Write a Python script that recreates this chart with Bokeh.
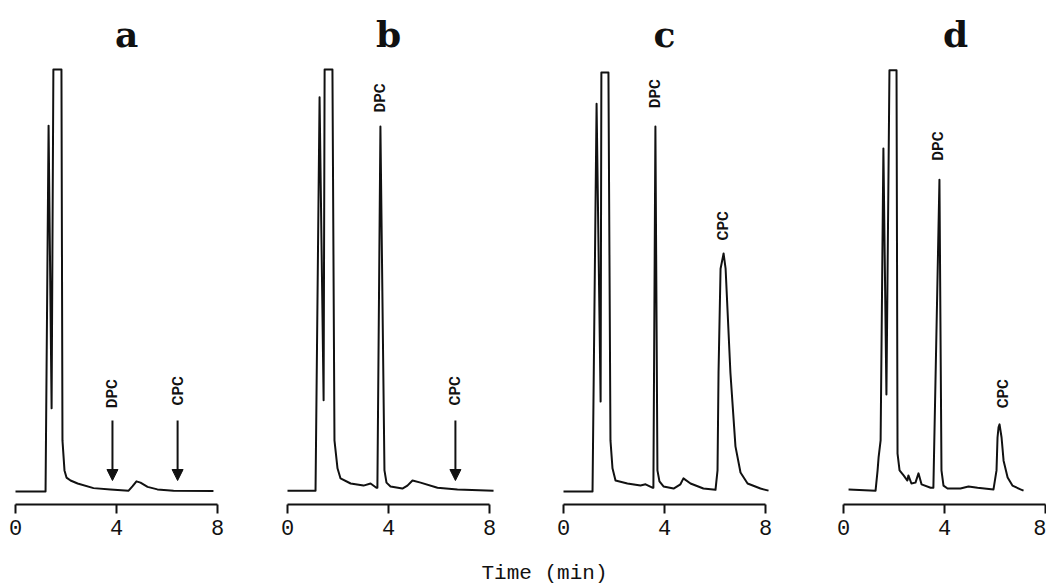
from bokeh.plotting import figure
from bokeh.layouts import row, column
from bokeh.models import Range1d, FixedTicker, Arrow, NormalHead, ColumnDataSource
from bokeh.core.properties import value
from bokeh.embed import file_html
from bokeh.resources import INLINE

# ---------------- data ----------------
panel_names = ["a", "b", "c", "d"]
tick_values = [0, 4, 8]

# time (min) / detector signal (relative units, 100 = off-scale top)
time_a = [0.00, 1.19, 1.31, 1.43, 1.50, 1.82, 1.86, 1.94, 2.02, 2.18, 2.46, 3.09, 3.76,
          4.48, 4.63, 4.79, 4.95, 5.23, 5.62, 6.26, 7.84]
signal_a = [0.0, 0.0, 86.7, 19.7, 100.0, 100.0, 12.1, 5.0, 3.3, 2.6, 1.9, 0.8, 0.5,
            0.2, 1.2, 2.4, 2.1, 1.1, 0.5, 0.2, 0.1]

time_b = [0.00, 1.11, 1.27, 1.43, 1.47, 1.78, 1.86, 1.98, 2.10, 2.50, 3.01, 3.29, 3.52,
          3.56, 3.68, 3.84, 3.92, 4.08, 4.55, 4.75, 4.95, 5.27, 5.94, 6.73, 8.16]
signal_b = [0.2, 0.2, 93.4, 21.6, 100.0, 100.0, 12.1, 5.5, 3.1, 1.9, 1.4, 1.9, 0.9,
            0.9, 86.5, 5.0, 2.1, 1.2, 0.7, 1.4, 2.6, 2.1, 0.9, 0.5, 0.2]

time_c = [0.00, 1.15, 1.31, 1.47, 1.50, 1.78, 1.86, 1.94, 2.06, 2.53, 3.05, 3.25, 3.52,
          3.56, 3.64, 3.72, 3.80, 3.96, 4.36, 4.63, 4.75, 5.03, 5.54, 6.02, 6.10, 6.14,
          6.22, 6.34, 6.42, 6.61, 6.81, 7.01, 7.29, 7.80, 8.12]
signal_c = [0.0, 0.0, 91.9, 21.3, 99.3, 99.3, 12.1, 5.5, 2.6, 1.9, 1.4, 1.7, 0.9,
            0.9, 86.5, 5.0, 2.4, 1.2, 0.7, 1.7, 3.1, 1.9, 0.7, 0.4, 5.0, 28.2,
            52.8, 56.4, 52.8, 28.2, 10.7, 4.5, 1.9, 0.7, 0.2]

time_d = [0.20, 1.27, 1.35, 1.39, 1.47, 1.58, 1.70, 1.82, 2.10, 2.14, 2.22, 2.38, 2.53,
          2.57, 2.69, 2.85, 2.97, 3.09, 3.45, 3.56, 3.80, 3.88, 3.96, 4.12, 4.63, 4.95,
          5.31, 5.94, 6.06, 6.10, 6.14, 6.18, 6.26, 6.34, 6.50, 6.69, 7.01, 7.13]
signal_d = [0.5, 0.2, 5.0, 8.1, 12.1, 81.3, 23.0, 99.8, 99.8, 9.0, 5.0, 3.8, 2.6,
            3.8, 1.9, 2.1, 4.3, 1.7, 0.9, 0.9, 73.9, 5.0, 1.4, 0.7, 0.7, 1.2,
            0.9, 0.5, 5.0, 12.8, 15.2, 15.9, 12.8, 7.3, 3.3, 1.4, 0.5, 0.2]

traces_t = [time_a, time_b, time_c, time_d]
traces_s = [signal_a, signal_b, signal_c, signal_d]

# peak labels: retention time, level of label foot, whether an arrow marks it
dpc_time = [3.84, 3.68, 3.64, 3.76]
dpc_level = [19.7, 89.8, 90.8, 78.4]
dpc_arrow = [True, False, False, False]
cpc_time = [6.42, 6.65, 6.30, 6.30]
cpc_level = [20.4, 20.4, 59.5, 19.7]
cpc_arrow = [True, True, False, False]

axis_title = "Time (min)"

# ---------------- layout / style constants ----------------
PX_PER_MIN = 25.25
PX_PER_UNIT = 4.22
FRAME_H = 504
TOP_H = 548
TOTAL_H = 585
fig_widths = [280, 276, 280, 210]
fig_lefts = [0, 280, 556, 836]
zero_px = [15, 287, 563, 843]
title_x = [4.40, 4.00, 4.00, 4.44]
TITLE_Y = 108.3
Y0 = -13 / PX_PER_UNIT
Y1 = Y0 + FRAME_H / PX_PER_UNIT
INK = "#111111"
ARROW_TOP, ARROW_TIP = 16.8, 2.6

figs = []
for i, name in enumerate(panel_names):
    w = fig_widths[i]
    x0 = (fig_lefts[i] - zero_px[i]) / PX_PER_MIN
    p = figure(width=w, height=TOP_H, output_backend="svg", toolbar_location=None,
               x_range=Range1d(x0, x0 + w / PX_PER_MIN), y_range=Range1d(Y0, Y1),
               y_axis_location=None, min_border_left=0, min_border_right=0,
               min_border_top=0, min_border_bottom=TOP_H - FRAME_H)
    p.outline_line_color = None
    p.xgrid.visible = False
    p.ygrid.visible = False
    p.background_fill_color = "white"
    p.border_fill_color = "white"

    ax = p.xaxis[0]
    ax.ticker = FixedTicker(ticks=tick_values)
    ax.bounds = (tick_values[0], tick_values[-1])
    ax.axis_line_width = 2
    ax.axis_line_color = INK
    ax.major_tick_line_width = 2
    ax.major_tick_line_color = INK
    ax.major_tick_in = 0
    ax.major_tick_out = 9
    ax.minor_tick_line_color = None
    ax.major_label_standoff = 6
    ax.major_label_text_font = "Liberation Mono"
    ax.major_label_text_font_size = "22px"
    ax.major_label_text_color = INK

    p.line(traces_t[i], traces_s[i], line_color=INK, line_width=2, line_join="round")

    lab = ColumnDataSource(dict(x=[dpc_time[i], cpc_time[i]], y=[dpc_level[i], cpc_level[i]],
                                t=["DPC", "CPC"]))
    p.text(x="x", y="y", text="t", source=lab, angle=1.5708, text_align="left",
           text_baseline="middle", text_font=value("Roboto"),
           text_font_style="bold", text_font_size="15px", text_color=INK)

    ax_x = [t for t, f in zip([dpc_time[i], cpc_time[i]], [dpc_arrow[i], cpc_arrow[i]]) if f]
    if ax_x:
        asrc = ColumnDataSource(dict(x0=ax_x, y0=[ARROW_TOP] * len(ax_x), x1=ax_x,
                                     y1=[ARROW_TIP] * len(ax_x)))
        p.add_layout(Arrow(x_start="x0", y_start="y0", x_end="x1", y_end="y1", source=asrc,
                           line_width=2, line_color=INK,
                           end=NormalHead(size=11, fill_color=INK, line_color=INK, line_width=1)))

    p.text(x=[title_x[i]], y=[TITLE_Y], text=[name], text_font=value("DejaVu Serif"),
           text_font_style="bold", text_font_size="36px", text_align="center",
           text_baseline="middle", text_color=INK)
    figs.append(p)

BOT_H = TOTAL_H - TOP_H
bottom = figure(width=sum(fig_widths), height=BOT_H, output_backend="svg", toolbar_location=None,
                x_range=Range1d(0, sum(fig_widths)), y_range=Range1d(0, BOT_H),
                x_axis_location=None, y_axis_location=None,
                min_border_left=0, min_border_right=0, min_border_top=0, min_border_bottom=0)
bottom.outline_line_color = None
bottom.xgrid.visible = False
bottom.ygrid.visible = False
bottom.text(x=[481], y=[12], text=[axis_title], text_font=value("Liberation Mono"),
            text_font_size="21px", text_align="left", text_baseline="middle",
            text_color=INK)

layout = column(row(*figs), bottom)
open("out.html", "w").write(file_html(layout, INLINE))
